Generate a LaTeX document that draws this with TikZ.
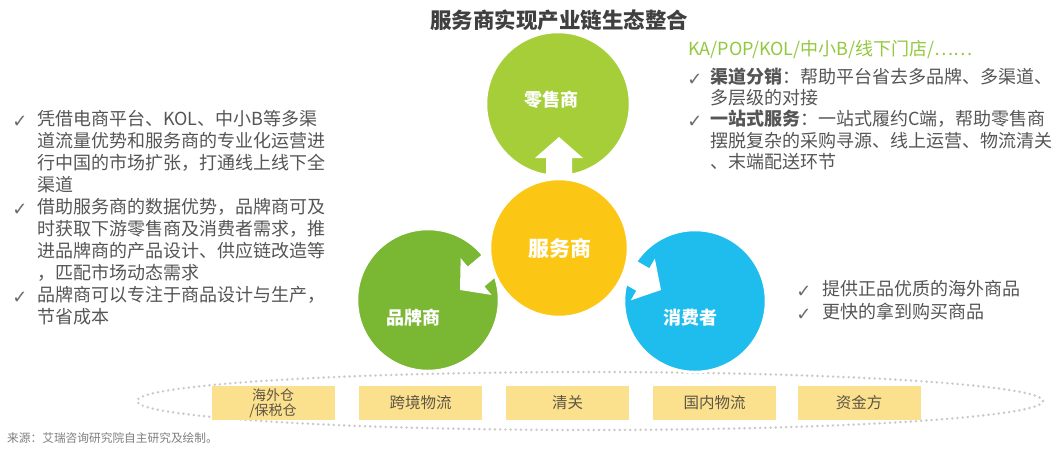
\documentclass[tikz,border=0pt]{standalone}
\usepackage{fontspec}
\setmainfont{Noto Sans CJK SC}
\newfontfamily\symfont{DejaVu Sans}
\usetikzlibrary{shapes.geometric}
\definecolor{txtgray}{HTML}{555555}
\definecolor{titlegray}{HTML}{404040}
\definecolor{chkgray}{HTML}{6A6A6A}
\definecolor{kagreen}{HTML}{92C83E}
\definecolor{cRetail}{HTML}{A6CE39}
\definecolor{cBrand}{HTML}{7AB733}
\definecolor{cServ}{HTML}{FCC714}
\definecolor{cCons}{HTML}{1FBDEE}
\definecolor{boxfill}{HTML}{FBE08D}
\definecolor{boxtext}{HTML}{5E5646}
\definecolor{dotgray}{HTML}{C8C8C8}
\definecolor{srcgray}{HTML}{7F7F7F}
\begin{document}
\begin{tikzpicture}[x=1pt,y=-1pt,
  txtline/.style={anchor=west, inner sep=0pt, text height=0.88em, text depth=0.12em,
    font=\fontsize{18}{22}\selectfont, text=txtgray},
  chk/.style={anchor=center, inner sep=0pt, font=\symfont\fontsize{18}{18}\selectfont, text=chkgray},
  bubble/.style={circle, inner sep=0pt, outer sep=0pt, draw=white, line width=2.5pt},
  clabel/.style={inner sep=0pt, text=white, font=\bfseries\fontsize{18}{18}\selectfont},
  ybox/.style={rectangle, fill=boxfill, inner sep=0pt, minimum width=123pt, minimum height=34pt,
    text=boxtext, font=\fontsize{15.5}{15.5}\selectfont, align=center},
  blockarrow/.pic={\fill[white] (0,0) -- (-21,24) -- (-21,13) -- (-50,13) -- (-50,-13)
    -- (-21,-13) -- (-21,-24) -- cycle;}
]
\useasboundingbox (0,0) rectangle (1062,448);

% title
\node[inner sep=0pt, text=titlegray, font=\bfseries\fontsize{21.5}{21.5}\selectfont] (title) at (559,20) {服务商实现产业链生态整合};

% dotted band
\node[ellipse, draw=dotgray, line width=2.7pt, dash pattern=on 0pt off 5.2pt, line cap=round,
  minimum width=906pt, minimum height=58pt, inner sep=0pt] (band) at (590,401) {};

% boxes
\node[ybox, font=\fontsize{14}{15}\selectfont] (b1) at (273,403) {海外仓\\/保税仓};
\node[ybox] (b2) at (420.5,403) {跨境物流};
\node[ybox] (b3) at (567.5,403) {清关};
\node[ybox] (b4) at (714.5,403) {国内物流};
\node[ybox] (b5) at (859,403) {资金方};

% circles
\node[bubble, fill=cRetail, minimum size=144pt] (retail) at (558,104) {};
\node[bubble, fill=cBrand, minimum size=142pt] (brand) at (428,300) {};
\node[bubble, fill=cCons, minimum size=142pt] (cons) at (695,301) {};

% block arrows
\coordinate (tipUp) at (559,137);
\coordinate (tipL) at (460,290);
\coordinate (tipR) at (661,290);
\pic[rotate=90] at (tipUp) {blockarrow};
\pic[rotate=220] at (tipL) {blockarrow};
\pic[rotate=330] at (tipR) {blockarrow};

\node[bubble, fill=cServ, minimum size=138pt] (serv) at (559,248) {};

% circle labels
\node[clabel] (retailT) at (551,100) {零售商};
\node[clabel, font=\bfseries\fontsize{21}{21}\selectfont] (servT) at (560,248) {服务商};
\node[clabel] (brandT) at (413,318) {品牌商};
\node[clabel] (consT) at (690,318) {消费者};

% left text
\foreach \t [count=\i] in {凭借电商平台、KOL、中小B等多渠,
  道流量优势和服务商的专业化运营进,
  行中国的市场扩张，打通线上线下全,
  渠道,
  借助服务商的数据优势，品牌商可及,
  时获取下游零售商及消费者需求，推,
  进品牌商的产品设计、供应链改造等,
  ，匹配市场动态需求,
  品牌商可以专注于商品设计与生产，,
  节省成本}
  \node[txtline] (L\i) at (37,{100+22*\i}) {\t};
\node[chk] (cL1) at (20,122) {✓};
\node[chk] (cL5) at (20,210) {✓};
\node[chk] (cL9) at (20,298) {✓};

% right top text
\node[txtline, text=kagreen] (ka) at (688,52) {KA/POP/KOL/中小B/线下门店/……};
\node[txtline] (R1) at (710,80) {\textbf{渠道分销}：帮助平台省去多品牌、多渠道、};
\node[txtline] (R2) at (710,101) {多层级的对接};
\node[txtline] (R3) at (710,122) {\textbf{一站式服务}：一站式履约C端，帮助零售商};
\node[txtline] (R4) at (710,143.5) {摆脱复杂的采购寻源、线上运营、物流清关};
\node[txtline] (R5) at (710,165) {、末端配送环节};
\node[chk] (cR1) at (695,80) {✓};
\node[chk] (cR3) at (695,122) {✓};

% right bottom text
\node[txtline] (C1) at (822,292) {提供正品优质的海外商品};
\node[txtline] (C2) at (822,315) {更快的拿到购买商品};
\node[chk] (cC1) at (804,292) {✓};
\node[chk] (cC2) at (804,315) {✓};

% source
\node[anchor=west, inner sep=0pt, text=srcgray, font=\fontsize{11.7}{11.7}\selectfont] (src) at (7,438) {来源：艾瑞咨询研究院自主研究及绘制。};
\end{tikzpicture}
\end{document}
